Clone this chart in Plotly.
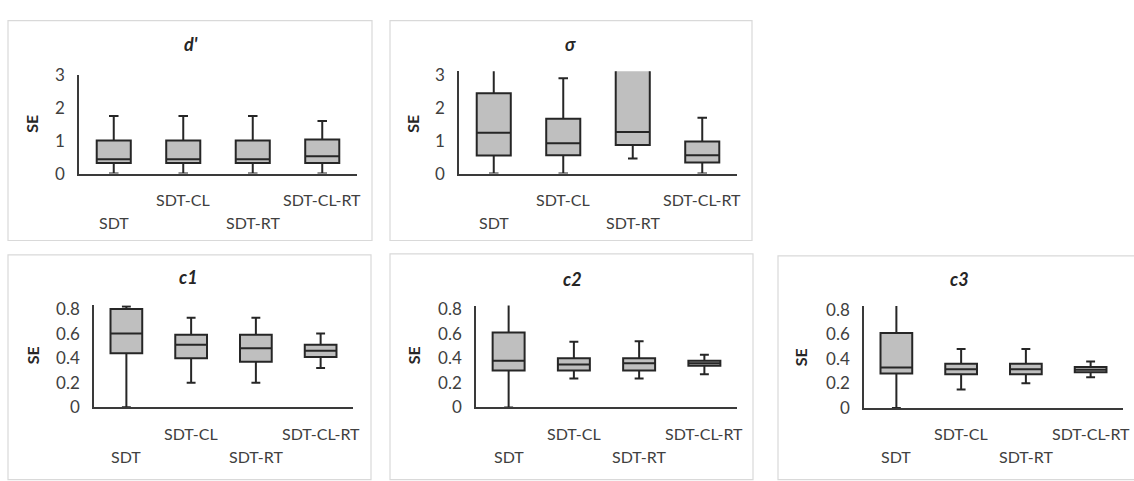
import plotly.graph_objects as go

W, H = 1134, 481

categories = ["SDT", "SDT-CL", "SDT-RT", "SDT-CL-RT"]
y_label = "SE"

# d'
dprime_lower = [0.0, 0.0, 0.0, 0.0]
dprime_q1 = [0.32, 0.32, 0.32, 0.32]
dprime_median = [0.44, 0.44, 0.44, 0.53]
dprime_q3 = [1.01, 1.01, 1.01, 1.04]
dprime_upper = [1.75, 1.75, 1.75, 1.60]

# sigma
sigma_lower = [0.0, 0.0, 0.46, 0.0]
sigma_q1 = [0.55, 0.56, 0.87, 0.34]
sigma_median = [1.24, 0.92, 1.27, 0.56]
sigma_q3 = [2.45, 1.67, 3.60, 0.98]
sigma_upper = [3.50, 2.90, 4.00, 1.70]

# c1
c1_lower = [0.0, 0.20, 0.20, 0.32]
c1_q1 = [0.44, 0.40, 0.37, 0.41]
c1_median = [0.60, 0.51, 0.48, 0.46]
c1_q3 = [0.80, 0.59, 0.59, 0.51]
c1_upper = [0.82, 0.73, 0.73, 0.60]

# c2
c2_lower = [0.0, 0.235, 0.235, 0.27]
c2_q1 = [0.30, 0.30, 0.30, 0.34]
c2_median = [0.38, 0.35, 0.36, 0.36]
c2_q3 = [0.61, 0.40, 0.40, 0.38]
c2_upper = [0.90, 0.535, 0.54, 0.43]

# c3
c3_lower = [0.0, 0.15, 0.20, 0.25]
c3_q1 = [0.28, 0.275, 0.275, 0.29]
c3_median = [0.33, 0.315, 0.315, 0.31]
c3_q3 = [0.61, 0.36, 0.36, 0.333]
c3_upper = [0.90, 0.48, 0.48, 0.378]

top_ticks = [0, 1, 2, 3]
bottom_ticks = [0, 0.2, 0.4, 0.6, 0.8]
bottom_ticktext = ["0", "0.2", "0.4", "0.6", "0.8"]

FONT = "Lato, 'DejaVu Sans', sans-serif"
BOX_FILL = "#bfbfbf"
BOX_LINE = "#262626"
AXIS_LINE = "#3a3a3a"
TEXT = "#404040"


def px(x):
    return x / W


def py(y):
    return 1 - y / H


panels = [
    dict(name="d'", lower=dprime_lower, q1=dprime_q1, med=dprime_median, q3=dprime_q3, upper=dprime_upper,
         x0=79, x1=357, yb=170, yt=67, rng=[0, 3], ticks=top_ticks, ticktext=[str(t) for t in top_ticks],
         frame=(8, 10, 372, 240), title=(191, 34), se=(32, 118)),
    dict(name="σ", lower=sigma_lower, q1=sigma_q1, med=sigma_median, q3=sigma_q3, upper=sigma_upper,
         x0=459, x1=737, yb=170, yt=62.9, rng=[0, 3.12], ticks=top_ticks, ticktext=[str(t) for t in top_ticks],
         frame=(390, 10, 752, 240), title=(570, 35), se=(413, 118)),
    dict(name="c1", lower=c1_lower, q1=c1_q1, med=c1_median, q3=c1_q3, upper=c1_upper,
         x0=94, x1=353, yb=414.3, yt=307.8, rng=[0, 0.83], ticks=bottom_ticks, ticktext=bottom_ticktext,
         frame=(8, 255, 371, 490), title=(188, 278), se=(32, 360)),
    dict(name="c2", lower=c2_lower, q1=c2_q1, med=c2_median, q3=c2_q3, upper=c2_upper,
         x0=476, x1=737, yb=414.5, yt=308.0, rng=[0, 0.83], ticks=bottom_ticks, ticktext=bottom_ticktext,
         frame=(390, 254, 753, 490), title=(572, 280), se=(413, 360)),
    dict(name="c3", lower=c3_lower, q1=c3_q1, med=c3_median, q3=c3_q3, upper=c3_upper,
         x0=864, x1=1123, yb=415, yt=308.5, rng=[0, 0.83], ticks=bottom_ticks, ticktext=bottom_ticktext,
         frame=(778, 256, 1145, 490), title=(959, 280), se=(800, 362)),
]

fig = go.Figure()
layout = dict(
    width=W, height=H,
    margin=dict(l=0, r=0, t=0, b=0),
    paper_bgcolor="white", plot_bgcolor="rgba(0,0,0,0)",
    showlegend=False,
    font=dict(family=FONT, color=TEXT),
)
shapes = []
annotations = []

for i, p in enumerate(panels):
    n = i + 1
    xa = "x" if n == 1 else f"x{n}"
    ya = "y" if n == 1 else f"y{n}"
    xkey = "xaxis" if n == 1 else f"xaxis{n}"
    ykey = "yaxis" if n == 1 else f"yaxis{n}"

    fig.add_trace(go.Box(
        x=categories, q1=p["q1"], median=p["med"], q3=p["q3"],
        lowerfence=p["lower"], upperfence=p["upper"],
        xaxis=xa, yaxis=ya,
        fillcolor=BOX_FILL, line=dict(color=BOX_LINE, width=2),
        width=0.49, whiskerwidth=0.28, boxpoints=False, hoverinfo="skip",
    ))

    layout[xkey] = dict(
        domain=[px(p["x0"]), px(p["x1"])], anchor=ya, type="category",
        categoryorder="array", categoryarray=categories,
        range=[-0.5, len(categories) - 0.5],
        showline=True, linecolor=AXIS_LINE, linewidth=1.5,
        showgrid=False, zeroline=False, ticks="", showticklabels=False,
        fixedrange=True,
    )
    layout[ykey] = dict(
        domain=[py(p["yb"]), py(p["yt"])], anchor=xa, range=p["rng"],
        tickmode="array", tickvals=p["ticks"], ticktext=p["ticktext"],
        showline=True, linecolor=AXIS_LINE, linewidth=1.5,
        showgrid=False, zeroline=False, ticks="",
        ticklabelstandoff=9,
        tickfont=dict(family=FONT, size=17, color=TEXT),
        fixedrange=True,
    )

    fx0, fy0, fx1, fy1 = p["frame"]
    shapes.append(dict(type="rect", xref="paper", yref="paper",
                       x0=px(fx0), x1=px(fx1), y0=py(fy1), y1=py(fy0),
                       line=dict(color="#d9d9d9", width=1.2), fillcolor="rgba(0,0,0,0)", layer="below"))

    annotations.append(dict(text=f"<b><i>{p['name']}</i></b>", xref="paper", yref="paper",
                            x=px(p["title"][0]), y=py(p["title"][1]), xanchor="center", yanchor="middle",
                            showarrow=False, font=dict(family=FONT, size=18, color="#262626")))
    annotations.append(dict(text=f"<b>{y_label}</b>", xref="paper", yref="paper", textangle=-90,
                            x=px(p["se"][0]), y=py(p["se"][1]), xanchor="center", yanchor="middle",
                            showarrow=False, font=dict(family=FONT, size=16, color="#262626")))
    for j, cat in enumerate(categories):
        shift = -26 if j % 2 == 1 else -49
        annotations.append(dict(text=cat, xref=xa, yref=f"{ya} domain", x=cat, y=0,
                                xanchor="center", yanchor="middle", yshift=shift,
                                showarrow=False, font=dict(family=FONT, size=16, color=TEXT)))

layout["shapes"] = shapes
layout["annotations"] = annotations
fig.update_layout(**layout)

fig.write_html(
    "out.html",
    config={"displayModeBar": False},
    post_script="document.body.style.margin='0';document.body.style.padding='0';"
                "document.body.style.overflow='hidden';",
)
